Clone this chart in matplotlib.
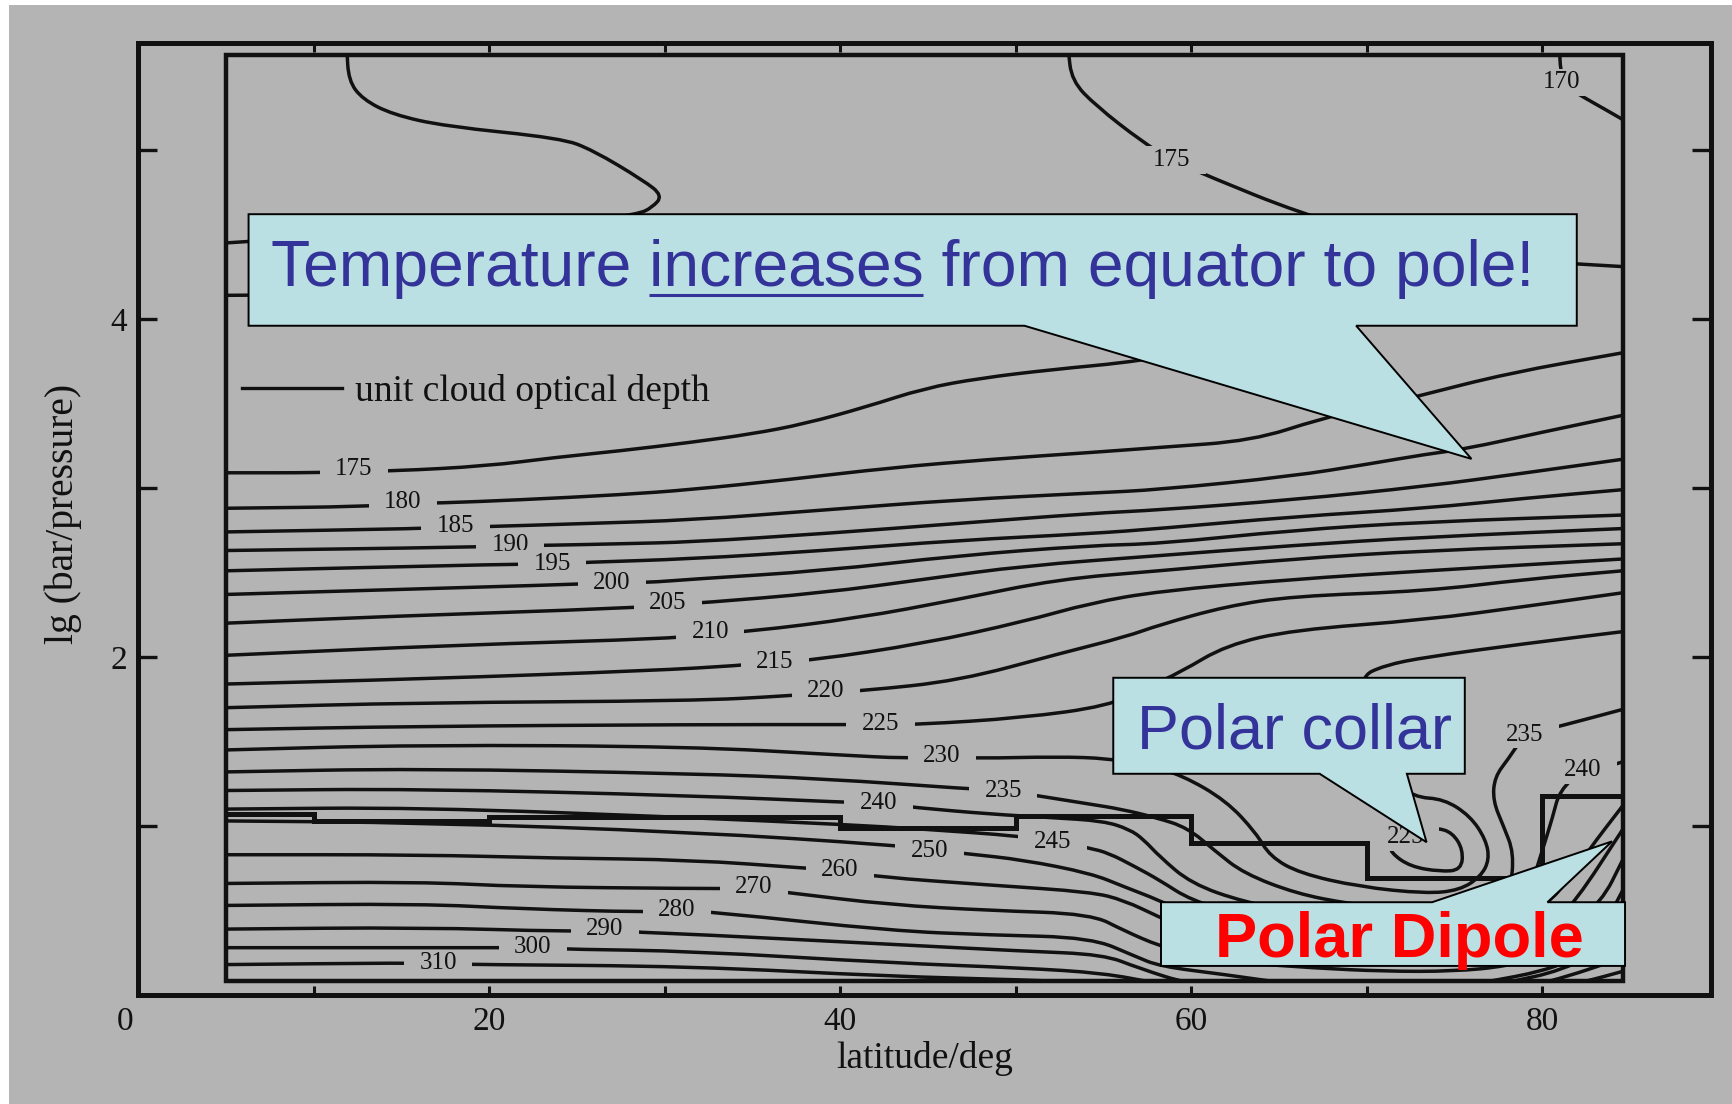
import numpy as np
import matplotlib
matplotlib.use("Agg")
import matplotlib.pyplot as plt
from matplotlib.patches import Rectangle, Polygon, PathPatch
from matplotlib.path import Path
from matplotlib.transforms import blended_transform_factory

# isotherms (K) as (latitude/deg, lg(bar/pressure)) along each line
iso_top_left = [(11.9, 5.60), (12.0, 5.41), (12.8, 5.30), (14.5, 5.21), (17.5, 5.14), (24.1, 5.07),
                (25.9, 5.00), (28.8, 4.82), (29.9, 4.73), (29.3, 4.66), (28.5, 4.62), (24.0, 4.55),
                (15.0, 4.50), (8.0, 4.47), (5.0, 4.45)]
t170 = [(81.0, 5.60), (81.05, 5.47), (81.3, 5.38), (82.4, 5.31), (83.6, 5.24), (84.6, 5.18)]
t175_top = [(53.0, 5.60), (53.2, 5.41), (54.6, 5.26), (57.2, 5.05), (58.9, 4.94), (61.1, 4.84),
            (66.1, 4.63), (72.0, 4.45), (78.0, 4.35), (84.6, 4.31)]
t175 = [(5.0, 3.09), (10.5, 3.09), (12.3, 3.10), (14.5, 3.10), (19.9, 3.13), (23.7, 3.18), (27.5, 3.22),
        (31.5, 3.27), (35.0, 3.32), (38.0, 3.38), (41.5, 3.48), (44.8, 3.59), (48.0, 3.65), (52.0, 3.70),
        (57.1, 3.75), (63.0, 3.86), (68.0, 4.00), (72.0, 4.06), (74.0, 4.12), (72.0, 4.20), (60.0, 4.21),
        (40.0, 4.17), (20.0, 4.15), (5.0, 4.14)]
t180 = [(5.0, 2.88), (13.1, 2.89), (15.1, 2.91), (17.0, 2.91), (21.8, 2.93), (27.5, 2.96), (31.5, 2.99),
        (37.1, 3.05), (42.9, 3.12), (48.6, 3.17), (54.3, 3.21), (58.2, 3.24), (63.5, 3.28), (67.4, 3.41),
        (70.0, 3.47), (72.8, 3.54), (78.1, 3.68), (84.6, 3.80)]
t185 = [(5.0, 2.74), (16.3, 2.76), (18.1, 2.77), (19.5, 2.77), (25.6, 2.79), (31.5, 2.81), (39.1, 2.87),
        (46.7, 2.93), (54.3, 2.97), (58.2, 2.99), (65.8, 3.07), (70.0, 3.14), (73.4, 3.20), (75.6, 3.23),
        (80.0, 3.33), (84.6, 3.43)]
t190 = [(5.0, 2.63), (19.2, 2.65), (21.2, 2.66), (23.1, 2.66), (27.5, 2.67), (31.5, 2.68), (39.1, 2.73),
        (46.7, 2.79), (54.3, 2.85), (58.2, 2.87), (65.8, 2.93), (73.4, 3.01), (79.1, 3.09), (84.6, 3.17)]
t195 = [(5.0, 2.51), (21.5, 2.55), (23.6, 2.55), (25.4, 2.56), (31.5, 2.58), (39.1, 2.63), (46.7, 2.69),
        (54.3, 2.73), (58.2, 2.76), (65.8, 2.83), (73.4, 2.88), (79.1, 2.94), (84.6, 2.99)]
t200 = [(5.0, 2.37), (25.0, 2.43), (27.0, 2.44), (29.0, 2.44), (31.5, 2.46), (39.1, 2.51), (46.7, 2.60),
        (54.3, 2.66), (58.2, 2.67), (65.8, 2.75), (73.4, 2.80), (84.6, 2.84)]
t205 = [(5.0, 2.20), (14.2, 2.24), (28.2, 2.29), (30.2, 2.31), (32.1, 2.32), (39.1, 2.38), (44.8, 2.46),
        (50.5, 2.54), (58.2, 2.60), (65.8, 2.66), (73.4, 2.71), (84.6, 2.76)]
t210 = [(5.0, 2.01), (18.0, 2.07), (30.7, 2.11), (32.6, 2.14), (34.8, 2.15), (41.0, 2.23), (46.7, 2.34),
        (52.4, 2.46), (58.2, 2.51), (65.8, 2.58), (73.4, 2.63), (84.6, 2.67)]
t215 = [(5.0, 1.84), (16.1, 1.87), (29.4, 1.92), (34.3, 1.95), (36.3, 1.97), (38.4, 1.98), (44.8, 2.08),
        (50.5, 2.21), (54.3, 2.32), (58.2, 2.39), (65.8, 2.46), (73.4, 2.51), (84.6, 2.58)]
t220 = [(5.0, 1.70), (16.1, 1.73), (31.5, 1.74), (37.1, 1.77), (39.2, 1.79), (41.3, 1.80), (46.8, 1.86),
        (52.5, 2.02), (56.3, 2.12), (58.2, 2.19), (62.0, 2.30), (65.8, 2.36), (73.4, 2.39), (79.1, 2.46),
        (84.6, 2.51)]
t225 = [(5.0, 1.57), (16.0, 1.59), (31.5, 1.60), (40.3, 1.60), (42.3, 1.60), (44.4, 1.60), (50.4, 1.64),
        (55.3, 1.71), (57.5, 1.82), (59.4, 1.91), (62.0, 2.07), (65.8, 2.16), (73.4, 2.22), (79.1, 2.30),
        (84.6, 2.38)]
t225_loop = [(71.3, 0.90), (71.4, 0.84), (72.5, 0.76), (74.2, 0.73), (75.4, 0.74), (75.5, 0.86),
             (74.9, 0.96), (74.0, 0.99), (73.2, 0.97)]
t230 = [(5.0, 1.45), (16.0, 1.48), (31.5, 1.47), (40.0, 1.42), (43.8, 1.40), (45.8, 1.41), (47.8, 1.40),
        (52.4, 1.41), (55.3, 1.40), (57.5, 1.36), (59.5, 1.30), (62.0, 1.15), (63.7, 0.96), (64.5, 0.82),
        (66.2, 0.72), (69.6, 0.64), (73.4, 0.60), (75.3, 0.62), (76.5, 0.70), (77.0, 0.80), (76.8, 0.92),
        (75.9, 1.06), (74.4, 1.16), (72.7, 1.17), (71.0, 1.30), (70.0, 1.60), (69.6, 1.88), (71.0, 1.95),
        (73.4, 2.00), (79.1, 2.08), (84.6, 2.15)]
t235 = [(5.0, 1.32), (16.0, 1.34), (31.5, 1.31), (39.1, 1.28), (47.3, 1.22), (49.3, 1.21), (51.2, 1.18),
        (54.2, 1.13), (56.0, 1.10), (58.0, 1.05), (59.8, 0.99), (61.4, 0.85), (63.0, 0.72), (66.0, 0.60),
        (69.0, 0.54), (72.0, 0.50), (75.0, 0.48), (77.0, 0.50), (78.2, 0.62), (78.4, 0.84), (77.8, 1.00),
        (77.2, 1.15), (77.3, 1.29), (78.1, 1.40), (79.0, 1.54), (81.0, 1.59), (84.6, 1.69)]
t240 = [(5.0, 1.21), (16.0, 1.22), (31.5, 1.18), (40.4, 1.14), (42.2, 1.135), (44.2, 1.11), (48.6, 1.07),
        (52.0, 1.05), (55.0, 1.03), (56.5, 0.98), (57.3, 0.92), (58.2, 0.82), (60.0, 0.66), (63.0, 0.55),
        (67.0, 0.47), (71.0, 0.43), (75.0, 0.42), (77.5, 0.44), (79.1, 0.55), (80.0, 0.85), (80.6, 1.05),
        (81.0, 1.21), (82.3, 1.33), (84.0, 1.36), (84.6, 1.38)]
t245 = [(5.0, 1.10), (16.0, 1.11), (31.5, 1.05), (40.0, 1.01), (45.0, 0.98), (50.3, 0.94), (52.1, 0.91),
        (54.2, 0.87), (55.3, 0.84), (56.8, 0.76), (58.2, 0.68), (60.0, 0.56), (63.0, 0.47), (67.0, 0.40),
        (71.0, 0.37), (75.0, 0.36), (78.0, 0.40), (80.6, 0.55), (82.6, 0.85), (84.6, 1.12)]
t250 = [(5.0, 1.03), (16.0, 1.02), (31.5, 0.965), (43.3, 0.885), (45.1, 0.86), (47.3, 0.835), (50.4, 0.80),
        (54.3, 0.72), (56.2, 0.64), (58.2, 0.56), (60.0, 0.47), (63.0, 0.39), (67.0, 0.33), (71.0, 0.30),
        (75.0, 0.30), (78.0, 0.33), (80.5, 0.42), (81.9, 0.55), (84.6, 0.98)]
t260 = [(5.0, 0.83), (16.1, 0.83), (23.7, 0.81), (31.5, 0.80), (38.1, 0.75), (40.0, 0.737), (42.0, 0.70),
        (48.6, 0.65), (54.3, 0.61), (56.2, 0.56), (58.2, 0.46), (60.0, 0.38), (63.0, 0.30), (67.0, 0.25),
        (71.0, 0.22), (75.0, 0.22), (78.0, 0.25), (81.0, 0.35), (83.4, 0.55), (84.6, 0.80)]
t270 = [(5.0, 0.66), (16.1, 0.67), (21.8, 0.64), (31.5, 0.63), (35.1, 0.63), (37.1, 0.605), (42.9, 0.533),
        (48.6, 0.50), (54.3, 0.48), (56.2, 0.38), (58.2, 0.29), (60.0, 0.24), (63.0, 0.19), (67.0, 0.16),
        (71.0, 0.14), (75.0, 0.14), (78.0, 0.17), (81.0, 0.25), (83.5, 0.40), (84.6, 0.62)]
t280 = [(5.0, 0.53), (16.1, 0.54), (21.8, 0.51), (29.0, 0.49), (30.7, 0.50), (32.9, 0.49), (42.9, 0.38),
        (48.6, 0.355), (54.3, 0.34), (56.8, 0.23), (58.2, 0.17), (62.0, 0.12), (66.0, 0.06), (70.0, 0.03),
        (74.0, 0.03), (77.0, 0.08), (80.0, 0.14), (82.0, 0.22), (84.6, 0.45)]
t290 = [(5.0, 0.39), (16.1, 0.40), (24.6, 0.375), (26.6, 0.385), (28.7, 0.37), (31.5, 0.36), (42.9, 0.30),
        (50.4, 0.26), (55.0, 0.24), (57.0, 0.16), (60.0, 0.06), (65.0, 0.00), (75.0, 0.00), (78.2, 0.08),
        (81.0, 0.14), (84.6, 0.32)]
t300 = [(5.0, 0.28), (20.5, 0.28), (22.5, 0.28), (24.8, 0.27), (31.5, 0.26), (42.9, 0.19), (50.4, 0.16),
        (55.0, 0.13), (58.0, 0.07), (62.0, 0.00), (75.0, -0.05), (80.6, 0.08), (84.6, 0.22)]
t310 = [(5.0, 0.18), (15.4, 0.19), (17.1, 0.185), (19.4, 0.18), (31.5, 0.17), (42.9, 0.11), (50.4, 0.09),
        (55.0, 0.07), (60.0, 0.00), (75.0, -0.10), (82.5, 0.08), (84.6, 0.14)]

# unit cloud optical depth, per latitude bin
cloud_edges = [5, 10, 20, 40, 50, 60, 70, 80, 84.6]
cloud_lgp = [1.07, 1.03, 1.055, 0.99, 1.06, 0.90, 0.69, 1.18]

x_ticks = [20, 40, 60, 80]
x_minor = [10, 30, 50, 70]
y_ticks = [1, 2, 3, 4, 5]
y_ticklabels = ['', '2', '', '4', '']

# (level, line, where the level is written on it)
isotherms = [
    (None, iso_top_left, []),
    (170, t170, [(81.1, 5.40)]),
    (175, t175_top, [(58.9, 4.94)]),
    (175, t175, [(12.3, 3.11)]),
    (180, t180, [(15.1, 2.915)]),
    (185, t185, [(18.1, 2.775)]),
    (190, t190, [(21.2, 2.665)]),
    (195, t195, [(23.6, 2.55)]),
    (200, t200, [(27.0, 2.44)]),
    (205, t205, [(30.2, 2.32)]),
    (210, t210, [(32.6, 2.15)]),
    (215, t215, [(36.3, 1.97)]),
    (220, t220, [(39.2, 1.80)]),
    (225, t225, [(42.3, 1.605)]),
    (225, t225_loop, [(72.2, 0.935)]),
    (230, t230, [(45.8, 1.415)]),
    (235, t235, [(49.3, 1.21), (79.0, 1.54)]),
    (240, t240, [(42.2, 1.135), (82.3, 1.33)]),
    (245, t245, [(52.1, 0.905)]),
    (250, t250, [(45.1, 0.855)]),
    (260, t260, [(40.0, 0.737)]),
    (270, t270, [(35.1, 0.64)]),
    (280, t280, [(30.7, 0.50)]),
    (290, t290, [(26.6, 0.39)]),
    (300, t300, [(22.5, 0.285)]),
    (310, t310, [(17.1, 0.188)]),
]

BG = '#b4b4b4'
INK = '#111111'
BOX = '#bae0e3'
BLUE = '#333399'


def smooth_path(pts):
    """Quadratic Bezier through the midpoints, read points act as control vertices."""
    p = np.asarray(pts, float)
    mids = (p[:-1] + p[1:]) / 2
    verts = [p[0], mids[0]]
    codes = [Path.MOVETO, Path.LINETO]
    for i in range(1, len(p) - 1):
        verts += [p[i], mids[i]]
        codes += [Path.CURVE3, Path.CURVE3]
    verts.append(p[-1])
    codes.append(Path.LINETO)
    return Path(verts, codes)


plt.rcParams['font.family'] = ['Liberation Serif', 'DejaVu Serif']

fig = plt.figure(figsize=(17.32, 11.04), dpi=100)
fig.patch.set_facecolor('white')
fig.add_artist(Rectangle((9 / 1732, 0), 1, 1 - 5 / 1104, transform=fig.transFigure,
                         facecolor=BG, edgecolor='none', zorder=-10))

ax = fig.add_axes([138 / 1732, 109 / 1104, 1572.5 / 1732, 952 / 1104])
ax.patch.set_visible(False)
ax.set_xlim(0, 89.6)
ax.set_ylim(0, 5.633)
for sp in ax.spines.values():
    sp.set_linewidth(3.6)
    sp.set_color(INK)

ax.set_xticks(x_ticks)
ax.set_xticks(x_minor, minor=True)
ax.tick_params(axis='x', which='both', direction='in', top=True, bottom=True,
               length=6.5, width=2.2, color=INK, labelsize=24, pad=8.6, labelcolor=INK)
ax.set_yticks(y_ticks)
ax.set_yticklabels(y_ticklabels)
ax.tick_params(axis='y', direction='in', left=True, right=True, length=13.7, width=2.4,
               color=INK, labelsize=24, pad=7.6, labelcolor=INK)
# the origin label sits out at the corner
ax.text(-0.75, -0.0126, '0', transform=blended_transform_factory(ax.transData, ax.transAxes),
        ha='center', va='top', fontsize=24, color=INK, clip_on=False)

ax.text(0.5, -0.0662, 'latitude/deg', transform=ax.transAxes, ha='center', va='center',
        fontsize=27, color=INK)
ax.text(-0.0477, 0.5057, 'lg (bar/pressure)', transform=ax.transAxes, ha='center', va='center',
        rotation=90, fontsize=28.5, color=INK)

# inner data frame, also clips the isotherms
inner = Rectangle((5.0, 0.08), 79.6, 5.48, fill=False, edgecolor=INK, linewidth=3.2, zorder=4)
ax.add_patch(inner)

for level, pts, labs in isotherms:
    curve = PathPatch(smooth_path(pts), fill=False, edgecolor=INK, linewidth=2.5,
                      joinstyle='round', capstyle='round', zorder=2)
    ax.add_patch(curve)
    curve.set_clip_path(inner)
    for lx, ly in labs:
        ax.text(lx, ly, f"{level}", ha='center', va='center', fontsize=18, color=INK, zorder=3,
                bbox=dict(boxstyle='square,pad=0.62', mutation_aspect=0.17,
                          facecolor=BG, edgecolor='none'))

ax.stairs(cloud_lgp, cloud_edges, baseline=None, color=INK, linewidth=3.6, zorder=3,
          label='unit cloud optical depth')
leg = ax.legend(loc='center left', bbox_to_anchor=(0.0659, 0.6338), frameon=False, fontsize=27,
                handlelength=2.67, handletextpad=0.34, borderpad=0, borderaxespad=0)
for h in leg.legend_handles:
    h.set_linewidth(2.4)
for t in leg.get_texts():
    t.set_color(INK)

# callouts
big_callout = [(6.30, 4.62), (81.98, 4.62), (81.98, 3.96), (69.41, 3.96), (75.98, 3.172),
               (50.51, 3.96), (6.30, 3.96)]
collar_callout = [(55.57, 1.877), (75.60, 1.877), (75.60, 1.309), (72.30, 1.309), (73.42, 0.904),
                  (67.33, 1.309), (55.57, 1.309)]
dipole_callout = [(58.29, 0.549), (73.74, 0.549), (83.99, 0.909), (80.31, 0.549), (84.73, 0.549),
                  (84.73, 0.172), (58.29, 0.172)]
for shape in (big_callout, collar_callout, dipole_callout):
    ax.add_patch(Polygon(shape, closed=True, facecolor=BOX, edgecolor='black', linewidth=1.4,
                         zorder=5, clip_on=False))

head = ax.text(7.55, 4.197, 'Temperature increases from equator to pole!', ha='left', va='baseline',
               fontsize=46.2, color=BLUE, family='Liberation Sans', zorder=6)
ax.text(56.91, 1.458, 'Polar collar', ha='left', va='baseline', fontsize=45.4, color=BLUE,
        family='Liberation Sans', zorder=6)
ax.text(61.37, 0.227, 'Polar Dipole', ha='left', va='baseline', fontsize=45.5, color='#ff0000',
        fontweight='bold', family='Liberation Sans', zorder=6)

# underline the key word of the headline
fig.canvas.draw()
r = fig.canvas.get_renderer()
prop = head.get_fontproperties()
w_head = r.get_text_width_height_descent('Temperature increases', prop, ismath=False)[0]
w_word = r.get_text_width_height_descent('increases', prop, ismath=False)[0]
x0, y0 = ax.transData.transform((7.55, 4.197))
inv = ax.transData.inverted()
xa, ya = inv.transform((x0 + w_head - w_word, y0 - 9))
xb, _ = inv.transform((x0 + w_head, y0 - 9))
ax.plot([xa, xb], [ya, ya], color=BLUE, lw=2.2, solid_capstyle='butt', zorder=6, clip_on=False)

fig.savefig('out.png', dpi=100, facecolor=fig.get_facecolor())
